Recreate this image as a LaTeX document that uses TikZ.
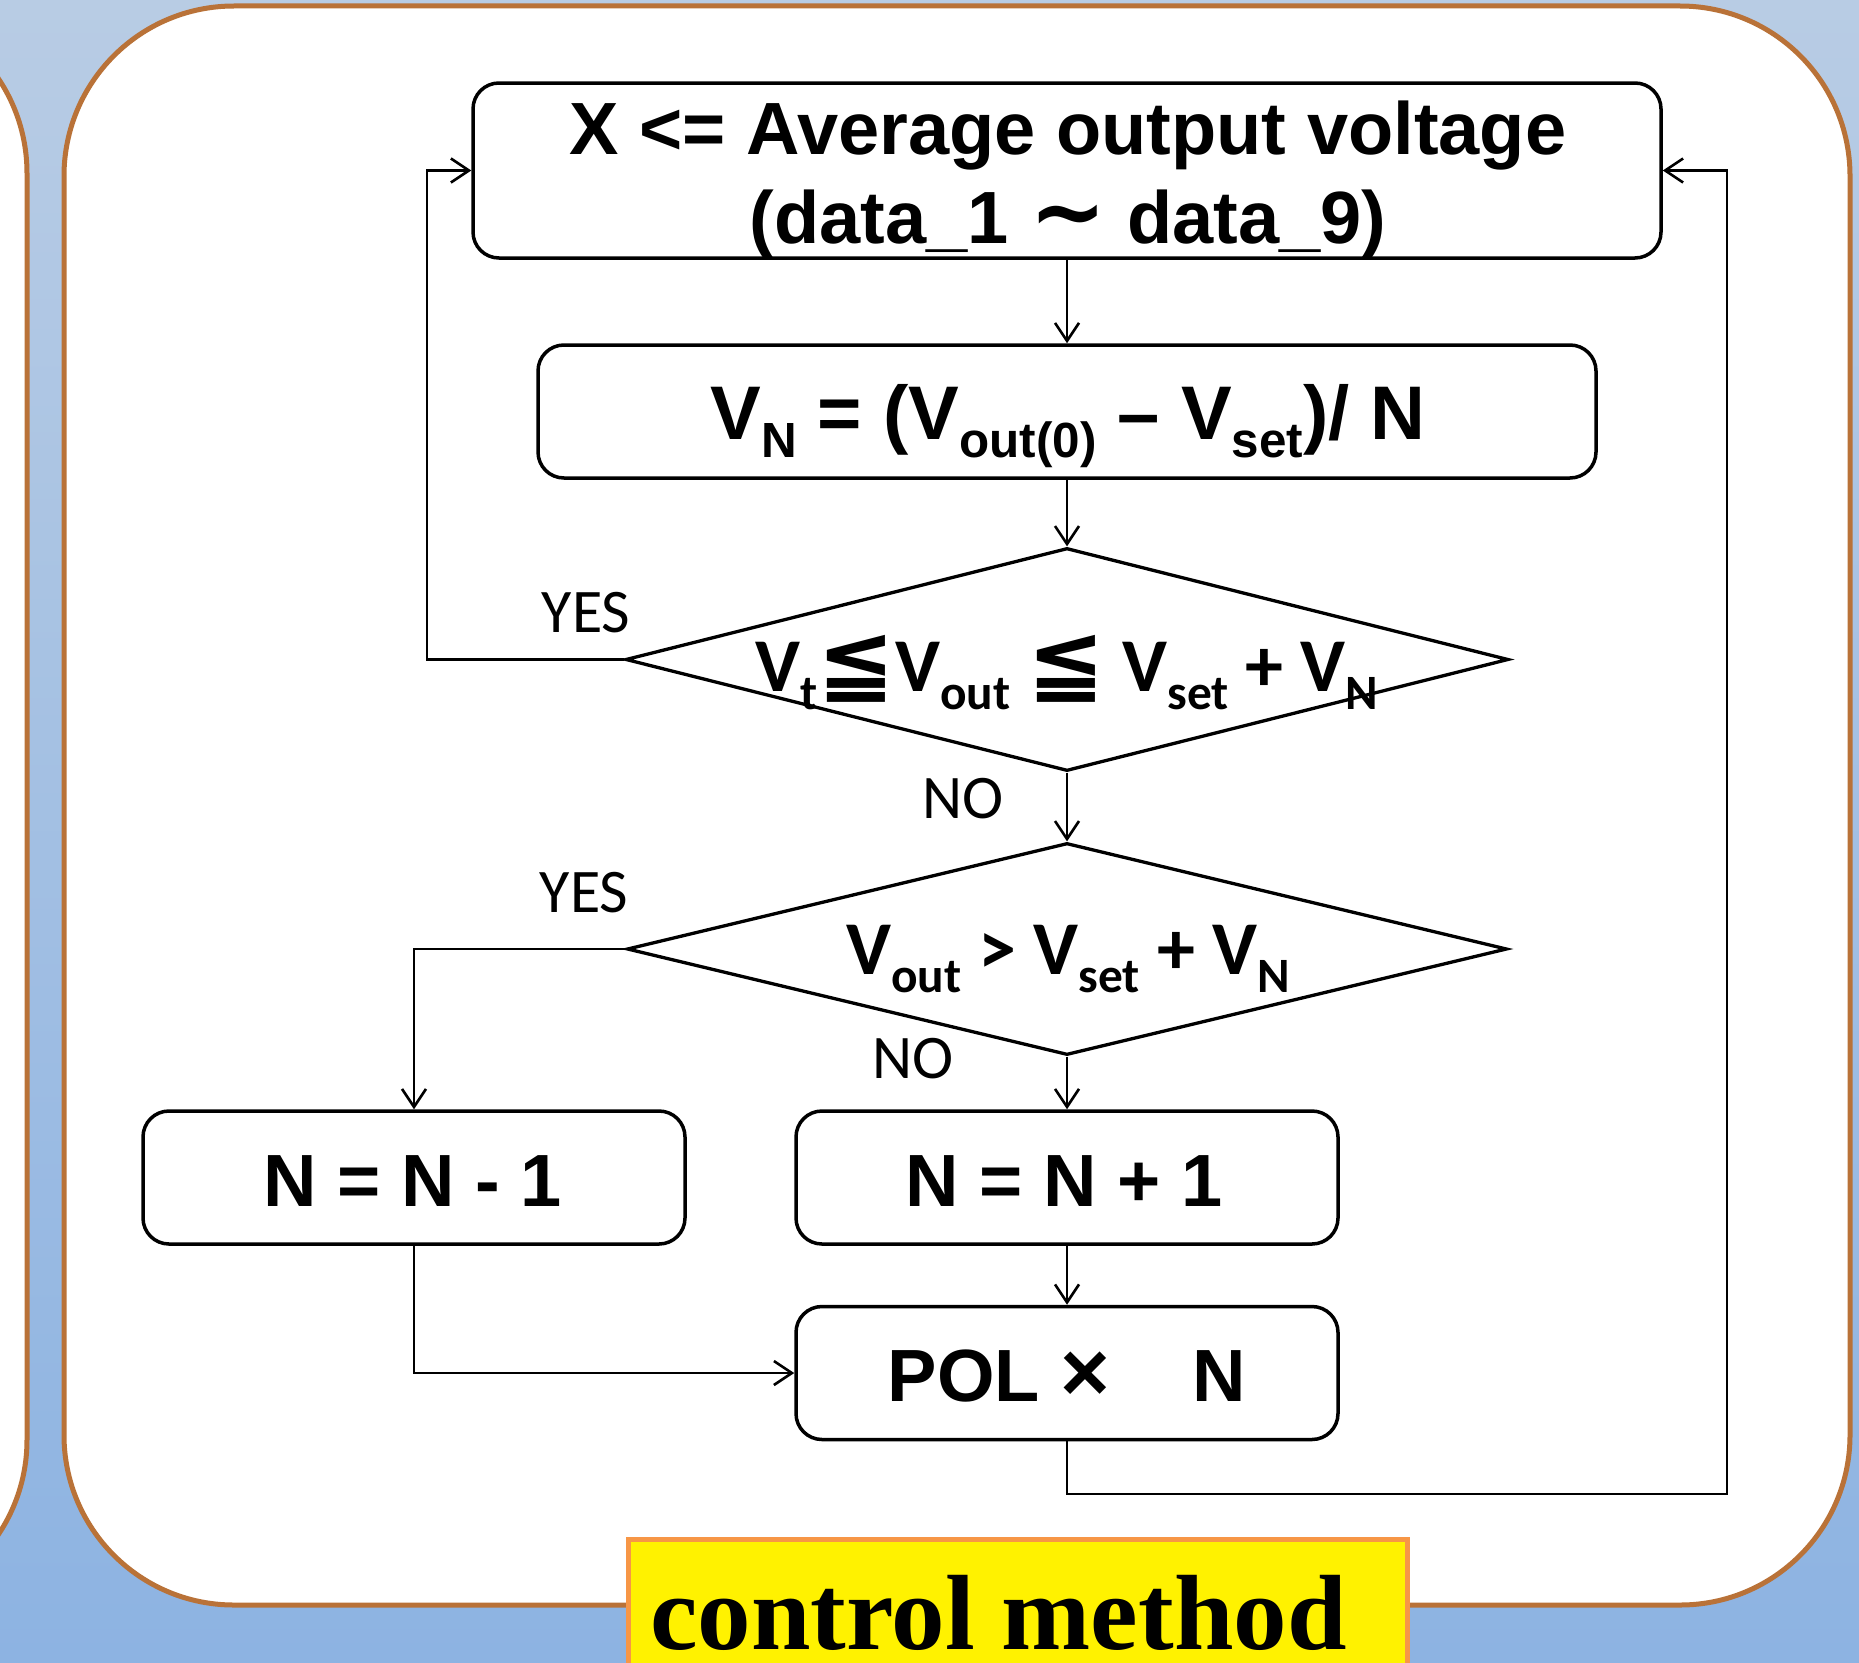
\documentclass[tikz,border=0pt]{standalone}
\usepackage{fontspec}
\setmainfont{Liberation Sans}
\newfontfamily\calfont{Carlito}
\newfontfamily\djfont{DejaVu Sans}
\newfontfamily\serfont{Liberation Serif}
\usetikzlibrary{shapes.geometric,arrows.meta}
\newcommand\subx[1]{\raisebox{-0.24em}{\scalebox{0.65}{#1}}}
\newcommand\leqqx{\raisebox{-0.02em}{\scalebox{1.22}{\djfont\bfseries ≦}}}
\definecolor{panelbrown}{RGB}{185,114,56}
\definecolor{bgtop}{RGB}{184,204,228}
\definecolor{bgbot}{RGB}{141,179,226}
\definecolor{lblorange}{RGB}{247,150,70}
\begin{document}
\begin{tikzpicture}[x=1pt,y=-1pt,
  panel/.style={draw=panelbrown, line width=5pt, fill=white, rounded corners=170pt},
  procbox/.style={draw, line width=3.5pt, rounded corners=26pt, fill=white, inner sep=0pt},
  decbox/.style={draw, line width=3.3pt, diamond, inner sep=0pt, fill=white},
  arrowline/.style={line width=2.6pt, -{Straight Barb[length=18pt,width=24pt]}},
  boxtxt/.style={font=\fontsize{74}{89}\selectfont\bfseries, inner sep=0pt, anchor=base},
  dectxt/.style={font=\calfont\fontsize{76}{90}\selectfont\bfseries, inner sep=0pt, anchor=base},
  lbltxt/.style={font=\calfont\fontsize{62}{74}\selectfont, inner sep=0pt, anchor=base}
]
\useasboundingbox (0,0) rectangle (1859,1662);
\shade[top color=bgtop, bottom color=bgbot] (0,0) rectangle (1859,1662);
\begin{scope}
  \clip (0,0) rectangle (1859,1662);
  \draw[panel] (-400,3) rectangle (27,1610);
\end{scope}
\draw[panel] (64,6) rectangle (1850,1605);

% process boxes
\node[procbox, minimum width=1188pt, minimum height=175pt] (b1) at (1067,170.5) {};
\node[boxtxt] (b1a) at (1068,154) {X <= Average output voltage};
\node[boxtxt] (b1b) at (1068,243) {(data\_1 \scalebox{1.25}{\djfont\bfseries ∼} data\_9)};

\node[procbox, minimum width=1058pt, minimum height=133pt] (b2) at (1067,411.5) {};
\node[boxtxt, font=\fontsize{76}{90}\selectfont\bfseries] (b2t) at (1068,439) {V\subx{N} = (V\subx{out(0)} – V\subx{set})/ N};

% decisions
\node[decbox, minimum width=883pt, minimum height=223pt] (d1) at (1067,659.5) {};
\node[dectxt] (d1t) at (1067,691) {V\subx{t}\leqqx V\subx{out} \leqqx{} V\subx{set} + V\subx{N}};

\node[decbox, minimum width=880pt, minimum height=212pt] (d2) at (1067,949) {};
\node[dectxt] (d2t) at (1068,974) {V\subx{out} > V\subx{set} + V\subx{N}};

% lower boxes
\node[procbox, minimum width=542pt, minimum height=133pt] (nm) at (414,1177.5) {};
\node[boxtxt] (nmt) at (413,1206) {N = N - 1};
\node[procbox, minimum width=542pt, minimum height=133pt] (np) at (1067,1177.5) {};
\node[boxtxt] (npt) at (1064,1206) {N = N + 1};
\node[procbox, minimum width=542pt, minimum height=133pt] (pol) at (1067,1373) {};
\node[boxtxt] (polt) at (1067,1401) {POL \scalebox{1.15}{×}\ \ \ \ N};

% labels
\node[lbltxt] (yes1) at (586,632) {YES};
\node[lbltxt] (no1) at (963,818) {NO};
\node[lbltxt] (yes2) at (584,912) {YES};
\node[lbltxt] (no2) at (913,1078) {NO};

% connectors
\coordinate (c1) at (427,659.5);
\coordinate (c2) at (1727,1494);
\draw[arrowline] (b1.south) -- (b2.north);
\draw[arrowline] (b2.south) -- (d1.north);
\draw[arrowline] (d1.south) -- (d2.north);
\draw[arrowline] (d1.west) -- (c1) |- (b1.west);
\draw[arrowline] (d2.west) -| (nm.north);
\draw[arrowline] (d2.south) -- (np.north);
\draw[arrowline] (np.south) -- (pol.north);
\draw[arrowline] (nm.south) |- (pol.west);
\draw[arrowline] (pol.south) |- (c2) |- (b1.east);

% caption
\begin{scope}
  \clip (0,0) rectangle (1859,1662);
  \node[draw=lblorange, line width=5pt, fill=yellow, minimum width=779pt, minimum height=180pt, inner sep=0pt] (cap) at (1017.5,1629) {};
\end{scope}
\node[anchor=base west, inner sep=0pt, font=\serfont\bfseries\fontsize{107}{120}\selectfont] (capt) at (650,1649) {control method};
\end{tikzpicture}
\end{document}
